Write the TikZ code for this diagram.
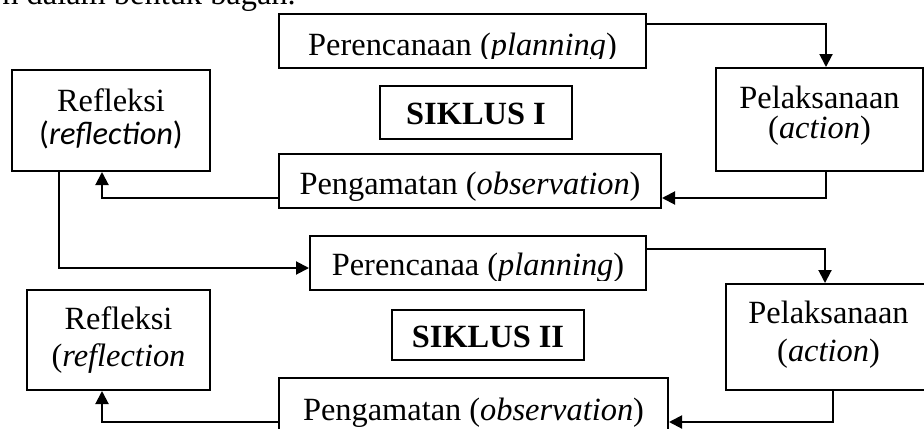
\documentclass[tikz,border=0pt]{standalone}
\usepackage{fontspec}
\setmainfont{Liberation Serif}
\newfontfamily\calibrifont{Carlito}
\usetikzlibrary{arrows.meta, fit}
\tikzset{
    x=0.5pt, y=-0.5pt,
    box/.style={draw, line width=1pt, inner sep=0pt},
    lbl/.style={inner sep=0pt, align=center, font=\fontsize{16.2}{16}\selectfont},
    flow/.style={-{Triangle[width=6.5pt,length=6.5pt]}, line width=1pt}
}

\begin{document}
\begin{tikzpicture}
    \useasboundingbox (0,0) rectangle (924,428);
    \node[lbl, anchor=base west] (intro) at (2,4) {n dalam bentuk bagan.};

    % siklus I
    \node[box, fit={(279,14) (646,68)}] (plan1) {};
    \node[box, fit={(716,68) (923,171)}] (act1) {};
    \node[box, fit={(279,154) (661,208)}] (obs1) {};
    \node[box, fit={(12,70) (210,171)}] (ref1) {};
    \node[box, fit={(380,86) (572,139)}] (cyc1) {};
    \begin{scope}
        \clip (plan1.north west) rectangle ([yshift=5.5pt]plan1.south east);
        \node[lbl, anchor=base] (plan1txt) at (462.5,55) {Perencanaan (\textit{planning})};
    \end{scope}
    \begin{scope}
        \clip (obs1.north west) rectangle ([yshift=4.5pt]obs1.south east);
        \node[lbl, anchor=base] (obs1txt) at (470,194) {Pengamatan (\textit{observation})};
    \end{scope}
    \node[lbl, anchor=north, font=\fontsize{16.2}{15}\selectfont] (act1txt) at (819.5,86) {Pelaksanaan\\(\textit{action})};
    \node[lbl, anchor=north, font=\fontsize{16.2}{16.5}\selectfont] (ref1txt) at (111,88) {Refleksi\\{\calibrifont(\textit{reflection})}};
    \node[lbl, anchor=base] (cyc1txt) at (476,124) {\textbf{SIKLUS I}};

    % siklus II
    \node[box, fit={(310,236) (646,290)}] (plan2) {};
    \node[box, fit={(726,284) (931,390)}] (act2) {};
    \node[box, fit={(279,378) (668,432)}] (obs2) {};
    \node[box, fit={(27,290) (210,390)}] (ref2) {};
    \node[box, fit={(392,310) (584,360)}] (cyc2) {};
    \begin{scope}
        \clip (plan2.north west) rectangle ([yshift=5.5pt]plan2.south east);
        \node[lbl, anchor=base] (plan2txt) at (478,275) {Perencanaa (\textit{planning})};
    \end{scope}
    \node[lbl, anchor=base] (obs2txt) at (473.5,420) {Pengamatan (\textit{observation})};
    \node[lbl, anchor=north, font=\fontsize{16.2}{19}\selectfont] (act2txt) at (828.5,301) {Pelaksanaan\\(\textit{action})};
    \node[lbl, anchor=north, font=\fontsize{16.2}{18.5}\selectfont] (ref2txt) at (118.5,306) {Refleksi\\(\textit{reflection}};
    \node[lbl, anchor=base] (cyc2txt) at (488,347) {\textbf{SIKLUS II}};

    % alur
    \draw[flow] ([yshift=-5.5pt]plan1.north east) -| ([xshift=3.25pt]act1.north);
    \draw[flow] ([xshift=3.25pt]act1.south) |- ([yshift=-8.5pt]obs1.east);
    \draw[flow] ([yshift=-8.5pt]obs1.west) -| ([xshift=-4.5pt]ref1.south);
    \draw[flow] ([xshift=24pt]ref1.south west) |- ([yshift=-2.5pt]plan2.west);
    \draw[flow] ([yshift=-7pt]plan2.north east) -| ([xshift=-1.75pt]act2.north);
    \draw[flow] ([xshift=2.25pt]act2.south) |- ([yshift=-8.5pt]obs2.east);
    \draw[flow] ([yshift=-8.5pt]obs2.west) -| ([xshift=-8.25pt]ref2.south);
\end{tikzpicture}
\end{document}
